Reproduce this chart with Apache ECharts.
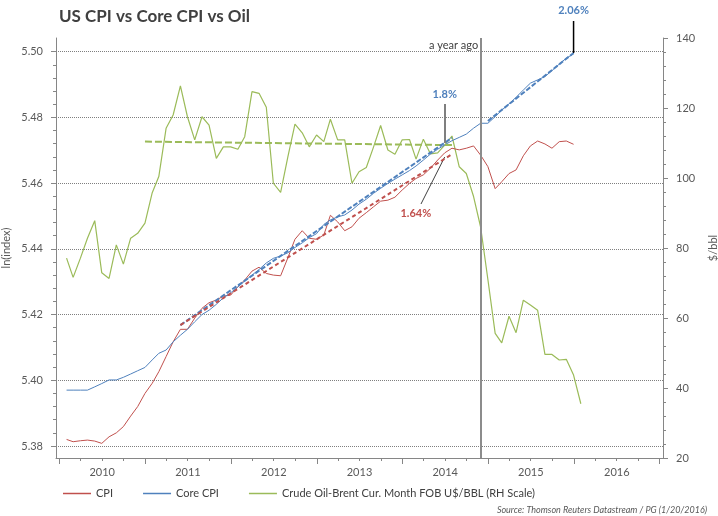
<!DOCTYPE html>
<html>
<head>
<meta charset="utf-8">
<script src="https://cdn.jsdelivr.net/npm/echarts@6/dist/echarts.min.js"></script>
<style>html,body{margin:0;padding:0;background:#fff;}#c{width:718px;height:516px;}</style>
</head>
<body>
<div id="c"></div>
<script>
// ---- data (monthly, Jan 2010 onward; plotted at month end) ----
const cpi = [5.3820,5.3813,5.3816,5.3818,5.3815,5.3808,5.3828,5.3840,5.3859,5.3891,5.3920,5.3960,
  5.3991,5.4026,5.4072,5.4117,5.4155,5.4155,5.4189,5.4219,5.4236,5.4244,5.4256,5.4259,
  5.4285,5.4305,5.4332,5.4344,5.4325,5.4320,5.4318,5.4373,5.4429,5.4455,5.4432,5.4429,
  5.4442,5.4502,5.4482,5.4455,5.4467,5.4493,5.4510,5.4528,5.4545,5.4548,5.4557,5.4579,
  5.4599,5.4614,5.4625,5.4645,5.4670,5.4692,5.4706,5.4701,5.4706,5.4713,5.4685,5.4650,
  5.4583,5.4604,5.4629,5.4640,5.4683,5.4713,5.4728,5.4719,5.4706,5.4726,5.4728,5.4718];
const coreCpi = [5.3970,5.3970,5.3970,5.3970,5.3980,5.3990,5.4001,5.4001,5.4009,5.4019,5.4029,5.4039,
  5.4062,5.4082,5.4092,5.4117,5.4137,5.4155,5.4178,5.4200,5.4213,5.4231,5.4251,5.4266,
  5.4284,5.4302,5.4320,5.4337,5.4357,5.4371,5.4378,5.4388,5.4404,5.4418,5.4434,5.4446,
  5.4474,5.4488,5.4497,5.4503,5.4518,5.4536,5.4551,5.4569,5.4584,5.4599,5.4612,5.4625,
  5.4638,5.4652,5.4670,5.4688,5.4703,5.4716,5.4729,5.4739,5.4749,5.4767,5.4782,5.4782,
  5.4802,5.4822,5.4841,5.4861,5.4883,5.4904,5.4914,5.4924,5.4942,5.4962,5.4980,5.4993];
const oil = [77.1,71.6,77.1,82.8,87.8,72.9,71.3,80.9,75.4,82.8,84.2,87.1,
  95.8,100.4,114.2,118.0,126.3,117.5,110.9,117.5,115.1,105.6,108.9,108.9,
  108.2,111.8,124.7,124.2,120.2,98.5,95.9,106.1,115.4,112.9,108.9,112.3,
  110.4,116.8,110.9,110.9,98.5,101.8,103.0,108.9,115.0,108.0,106.8,110.9,
  111.0,105.4,111.1,106.9,107.2,109.4,112.0,103.2,101.3,94.7,86.0,71.0,
  55.6,52.9,60.5,55.8,65.1,63.7,62.2,49.6,49.6,48.0,48.2,43.7,35.5];
// trend lines: [year, month, value] endpoints
const cpiTrend = [[2011,5,5.4168],[2014,7,5.4688]];
const coreTrend1 = [[2011,5,5.4168],[2014,7,5.4738]];
const coreTrend2 = [[2014,12,5.4789],[2015,12,5.4996]];
const oilTrend = [[2010,12,110.4],[2014,7,109.4]];
const yearLabels = ['2010','2011','2012','2013','2014','2015','2016'];
const leftTicks = [5.38,5.40,5.42,5.44,5.46,5.48,5.50];
const rightTicks = [20,40,60,80,100,120,140];
const names = ['CPI','Core CPI','Crude Oil-Brent Cur. Month FOB U$/BBL (RH Scale)'];

// ---- helpers ----
function monthEnd(y, m) { return new Date(y, m, 0).getTime(); } // m: 1..12
function day(y, m, d) { return new Date(y, m - 1, d).getTime(); }
const months = [];
for (let i = 0; i < oil.length; i++) {
  const y = 2010 + Math.floor(i / 12), m = (i % 12) + 1;
  months.push(monthEnd(y, m));
}
const pairs = arr => arr.map((v, i) => [months[i], v]);
const trend = arr => arr.map(p => [monthEnd(p[0], p[1]), p[2]]);

const yearTickPos = [];
for (let y = 2010; y <= 2017; y++) yearTickPos.push(day(y, 1, 1));
const quarterTickPos = [];
for (let y = 2010; y <= 2016; y++) [4, 7, 10].forEach(m => quarterTickPos.push(day(y, m, 1)));
const yearLabelPos = yearLabels.map(s => day(+s, 7, 2));
const leftMinor = [];
for (let k = 1; k < 31; k++) if (k % 5 !== 0) leftMinor.push(+(5.38 + k * 0.004).toFixed(3));

const FONT = 'Lato';
const AX = '#868686';
const LBL = '#595959';
const RED = '#c0504d', BLUE = '#4f81bd', GREEN = '#9bbb59';
const yMin = 5.37635, yMax = 5.50414;
const xMin = day(2009, 12, 17), xMax = day(2017, 1, 15);

const chart = echarts.init(document.getElementById('c'));
chart.setOption({
  animation: false,
  textStyle: { fontFamily: FONT },
  title: [
    { text: 'US CPI vs Core CPI vs Oil', left: 54, top: 3,
      textStyle: { fontFamily: FONT, fontSize: 17, fontWeight: 'bold', color: '#404040' } },
    { text: 'Source: Thomson Reuters Datastream / PG (1/20/2016)', right: 6, top: 501,
      textStyle: { fontFamily: FONT, fontSize: 9, fontStyle: 'italic', fontWeight: 'normal', color: LBL } }
  ],
  legend: {
    data: names, left: 58, top: 483, icon: 'rect', itemWidth: 28, itemHeight: 1.5, itemGap: 30,
    textStyle: { fontFamily: FONT, fontSize: 11, color: '#404040' }
  },
  grid: { left: 56, right: 55, top: 38, bottom: 58, containLabel: false, outerBoundsMode: 'none' },
  xAxis: [
    { type: 'value', min: xMin, max: xMax,
      axisLine: { onZero: false, lineStyle: { color: AX, width: 1 } },
      axisTick: { customValues: yearTickPos, length: 6, lineStyle: { color: AX } },
      axisLabel: { customValues: yearLabelPos, formatter: v => String(new Date(v).getFullYear()),
        color: LBL, fontSize: 11, fontFamily: FONT, margin: 9 },
      splitLine: { show: false } },
    { type: 'value', min: xMin, max: xMax, position: 'bottom',
      axisLine: { show: false, onZero: false },
      axisTick: { customValues: quarterTickPos, length: 3, lineStyle: { color: AX } },
      axisLabel: { show: false }, splitLine: { show: false } }
  ],
  yAxis: [
    { type: 'value', position: 'left', min: yMin, max: yMax,
      name: 'ln(index)', nameLocation: 'middle', nameGap: 44, nameMoveOverlap: false,
      nameTextStyle: { fontFamily: FONT, fontSize: 11, color: LBL },
      axisLine: { show: true, lineStyle: { color: AX } },
      axisTick: { show: true, customValues: leftTicks, length: 5, lineStyle: { color: AX } },
      axisLabel: { customValues: leftTicks, formatter: v => v.toFixed(2), color: LBL, fontSize: 11, fontFamily: FONT, margin: 13 },
      splitLine: { show: true, lineStyle: { type: 'dotted', color: '#7f7f7f', width: 1 } } },
    { type: 'value', position: 'right', min: 20, max: 140, interval: 20,
      name: '$/bbl', nameLocation: 'middle', nameGap: 45,
      nameTextStyle: { fontFamily: FONT, fontSize: 11, color: LBL },
      axisLine: { show: true, lineStyle: { color: AX } },
      axisTick: { show: true, length: 5, lineStyle: { color: AX } },
      minorTick: { show: true, splitNumber: 5, length: 3, lineStyle: { color: AX } },
      axisLabel: { formatter: v => rightTicks.indexOf(v) >= 0 ? String(v) : '', color: LBL, fontSize: 11, fontFamily: FONT, margin: 13 },
      splitLine: { show: false } },
    { type: 'value', position: 'left', min: yMin, max: yMax,
      axisLine: { show: false },
      axisTick: { show: true, customValues: leftMinor, length: 3, lineStyle: { color: AX } },
      axisLabel: { show: false }, splitLine: { show: false } }
  ],
  series: [
    { name: names[0], type: 'line', yAxisIndex: 0, data: pairs(cpi), color: RED,
      symbol: 'none', lineStyle: { width: 1, color: RED }, z: 3 },
    { name: names[1], type: 'line', yAxisIndex: 0, data: pairs(coreCpi), color: BLUE,
      symbol: 'none', lineStyle: { width: 1, color: BLUE }, z: 3 },
    { name: names[2], type: 'line', yAxisIndex: 1, data: pairs(oil), color: GREEN,
      symbol: 'none', lineStyle: { width: 1.2, color: GREEN }, z: 2 },
    { name: 'oilTrend', type: 'line', yAxisIndex: 1, data: trend(oilTrend), symbol: 'none',
      lineStyle: { width: 2, color: GREEN, type: [7, 3] }, z: 4 },
    { name: 'coreTrend1', type: 'line', yAxisIndex: 0, data: trend(coreTrend1), symbol: 'none',
      lineStyle: { width: 2, color: BLUE, type: [5, 2] }, z: 4 },
    { name: 'coreTrend2', type: 'line', yAxisIndex: 0, data: trend(coreTrend2), symbol: 'none',
      lineStyle: { width: 2, color: BLUE, type: [5, 2] }, z: 4 },
    { name: 'cpiTrend', type: 'line', yAxisIndex: 0, data: trend(cpiTrend), symbol: 'none',
      lineStyle: { width: 2, color: RED, type: [4, 3] }, z: 5,
      markLine: {
        silent: true, symbol: ['none', 'none'], label: { show: false }, animation: false,
        data: [
          [{ coord: [monthEnd(2014, 6), 5.48406], lineStyle: { color: '#7f7f7f', width: 2, type: 'solid' } },
           { coord: [monthEnd(2014, 6), 5.47219] }],
          [{ coord: [day(2014, 3, 21), 5.45363], lineStyle: { color: '#404040', width: 1, type: 'solid' } },
           { coord: [monthEnd(2014, 6), 5.46793] }],
          { xAxis: monthEnd(2014, 11), lineStyle: { color: '#8c8c8c', width: 2, type: 'solid' } }
        ]
      },
      markPoint: {
        silent: true, symbol: 'circle', symbolSize: 1, itemStyle: { color: 'rgba(0,0,0,0)' },
        data: [
          { coord: [monthEnd(2014, 6), 5.4871], label: { show: true, position: 'inside', formatter: '1.8%',
            color: BLUE, fontWeight: 'bold', fontSize: 11, fontFamily: FONT } },
          { coord: [day(2014, 2, 27), 5.4509], label: { show: true, position: 'inside', formatter: '1.64%',
            color: RED, fontWeight: 'bold', fontSize: 11, fontFamily: FONT } },
          { coord: [monthEnd(2014, 11), 5.502], label: { show: true, position: 'left', distance: 2, formatter: 'a year ago',
            color: '#404040', fontSize: 11, fontFamily: FONT } }
        ]
      } }
  ]
});

// 2.06% callout sits above the plot area, so place it through the axis scales
const toPx = p => chart.convertToPixel({ xAxisIndex: 0, yAxisIndex: 0 }, p);
const a1 = toPx([monthEnd(2015, 12), 5.50931]);
const a2 = toPx([monthEnd(2015, 12), 5.49957]);
const aT = toPx([monthEnd(2015, 12), 5.51266]);
chart.setOption({
  graphic: [
    { type: 'line', silent: true, shape: { x1: a1[0], y1: a1[1], x2: a2[0], y2: a2[1] },
      style: { stroke: '#000', lineWidth: 1.5 }, z: 10 },
    { type: 'text', silent: true, x: aT[0], y: aT[1],
      style: { text: '2.06%', fill: BLUE, font: 'bold 11px ' + FONT, align: 'center', verticalAlign: 'middle' }, z: 10 }
  ]
});
</script>
</body>
</html>
